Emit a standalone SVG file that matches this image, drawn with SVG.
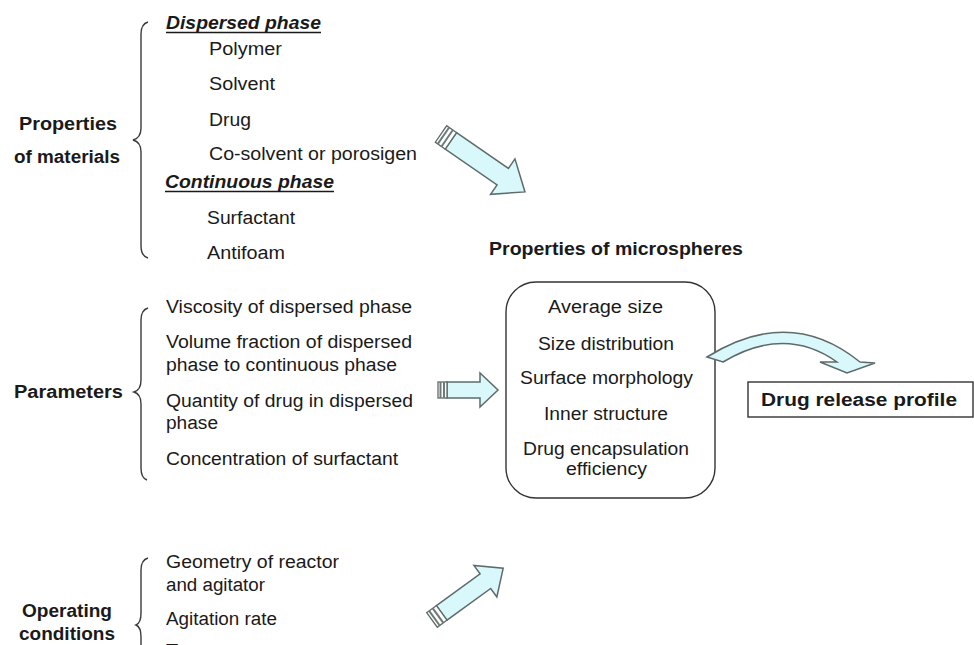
<svg xmlns="http://www.w3.org/2000/svg" width="974" height="645" viewBox="0 0 974 645">
<style>
text{font-family:"Liberation Sans",Arial,sans-serif;font-size:18px;fill:#1a1a1a}
.b{font-weight:bold}
.bi{font-weight:bold;font-style:italic}
.brace{fill:none;stroke:#3a3a3a;stroke-width:1.4}
.ul{stroke:#1a1a1a;stroke-width:1.5}
.arr{fill:#d8f8fb;stroke:#5f6b6b;stroke-width:1.5;stroke-linejoin:miter}
.ring{fill:#ffffff;stroke:#5f6b6b;stroke-width:1.3}
.stripe{stroke:#6e7a7a;stroke-width:2}
.box{fill:#ffffff;stroke:#333;stroke-width:1.4}
</style>
<rect width="974" height="645" fill="#ffffff"/>

<g id="materials">
<text class="b" x="19" y="130" textLength="98" lengthAdjust="spacingAndGlyphs">Properties</text>
<text class="b" x="14" y="163" textLength="106" lengthAdjust="spacingAndGlyphs">of materials</text>
<path class="brace" d="M148,22 Q141,24 141,34 L141,128 Q141,138 133,140 Q141,142 141,152 L141,246 Q141,256 148,258"/>
<text class="bi" x="166" y="29" textLength="155" lengthAdjust="spacingAndGlyphs">Dispersed phase</text>
<line class="ul" x1="166" y1="32.5" x2="321" y2="32.5"/>
<text x="209" y="55" textLength="73" lengthAdjust="spacingAndGlyphs">Polymer</text>
<text x="209" y="90" textLength="66" lengthAdjust="spacingAndGlyphs">Solvent</text>
<text x="209" y="126" textLength="42" lengthAdjust="spacingAndGlyphs">Drug</text>
<text x="209" y="160" textLength="208" lengthAdjust="spacingAndGlyphs">Co-solvent or porosigen</text>
<text class="bi" x="165" y="188" textLength="169" lengthAdjust="spacingAndGlyphs">Continuous phase</text>
<line class="ul" x1="165" y1="191.5" x2="334" y2="191.5"/>
<text x="207" y="224" textLength="88" lengthAdjust="spacingAndGlyphs">Surfactant</text>
<text x="207" y="259" textLength="78" lengthAdjust="spacingAndGlyphs">Antifoam</text>
</g>

<g id="parameters">
<text class="b" x="14" y="398" textLength="109" lengthAdjust="spacingAndGlyphs">Parameters</text>
<path class="brace" d="M148,308 Q141,310 141,320 L141,380 Q141,390 134,392 Q141,394 141,404 L141,468 Q141,478 147,480"/>
<text x="166" y="313" textLength="246" lengthAdjust="spacingAndGlyphs">Viscosity of dispersed phase</text>
<text x="166" y="348" textLength="246" lengthAdjust="spacingAndGlyphs">Volume fraction of dispersed</text>
<text x="166" y="371" textLength="231" lengthAdjust="spacingAndGlyphs">phase to continuous phase</text>
<text x="166" y="407" textLength="247" lengthAdjust="spacingAndGlyphs">Quantity of drug in dispersed</text>
<text x="166" y="429" textLength="52" lengthAdjust="spacingAndGlyphs">phase</text>
<text x="166" y="465" textLength="232" lengthAdjust="spacingAndGlyphs">Concentration of surfactant</text>
</g>

<g id="operating">
<text class="b" x="22" y="617" textLength="90" lengthAdjust="spacingAndGlyphs">Operating</text>
<text class="b" x="19" y="640" textLength="96" lengthAdjust="spacingAndGlyphs">conditions</text>
<path class="brace" d="M148,558 Q141,560 141,570 L141,613 Q141,623 136,625 Q141,627 141,637 L141,700"/>
<text x="166" y="568" textLength="173" lengthAdjust="spacingAndGlyphs">Geometry of reactor</text>
<text x="166" y="591" textLength="99" lengthAdjust="spacingAndGlyphs">and agitator</text>
<text x="166" y="625" textLength="111" lengthAdjust="spacingAndGlyphs">Agitation rate</text>
<text x="166" y="657" textLength="112" lengthAdjust="spacingAndGlyphs">Temperature</text>
</g>

<g id="microspheres">
<text class="b" x="489" y="255" textLength="254" lengthAdjust="spacingAndGlyphs">Properties of microspheres</text>
<rect class="box" x="506" y="282" width="209" height="216" rx="30" ry="30"/>
<text x="548" y="313" textLength="115" lengthAdjust="spacingAndGlyphs">Average size</text>
<text x="538" y="350" textLength="136" lengthAdjust="spacingAndGlyphs">Size distribution</text>
<text x="520" y="384" textLength="173" lengthAdjust="spacingAndGlyphs">Surface morphology</text>
<text x="544" y="420" textLength="124" lengthAdjust="spacingAndGlyphs">Inner structure</text>
<text x="523" y="455" textLength="166" lengthAdjust="spacingAndGlyphs">Drug encapsulation</text>
<text x="566" y="475" textLength="81" lengthAdjust="spacingAndGlyphs">efficiency</text>
</g>

<g id="release">
<rect class="box" x="748" y="382" width="225" height="35"/>
<text class="b" x="761" y="406" textLength="196" lengthAdjust="spacingAndGlyphs">Drug release profile</text>
</g>

<g id="connectors">
<g transform="translate(441,134) rotate(34.6)">
<path class="arr" d="M12,-10 L75,-10 L75,-21.5 L102,0 L75,21.5 L75,10 L12,10 Z"/>
<rect class="ring" x="0" y="-10" width="12" height="20"/>
<line class="stripe" x1="3" y1="-10" x2="3" y2="10"/>
<line class="stripe" x1="7.5" y1="-10" x2="7.5" y2="10"/>
</g>
<g transform="translate(438,390)">
<path class="arr" d="M9,-8 L42,-8 L42,-17 L60,0 L42,17 L42,8 L9,8 Z"/>
<rect class="ring" x="0" y="-8" width="9" height="16"/>
<line class="stripe" x1="2.5" y1="-8" x2="2.5" y2="8"/>
<line class="stripe" x1="6" y1="-8" x2="6" y2="8"/>
</g>
<g transform="translate(432,620) rotate(-36)">
<path class="arr" d="M12,-9 L66,-9 L66,-19.5 L88,0 L66,19.5 L66,9 L12,9 Z"/>
<rect class="ring" x="0" y="-9" width="12" height="18"/>
<line class="stripe" x1="3" y1="-9" x2="3" y2="9"/>
<line class="stripe" x1="7.5" y1="-9" x2="7.5" y2="9"/>
</g>
<path class="arr" d="M707,357 Q790,305 860,362 L875,363 L847,373 L820,362 L837,362 Q785,325 723,362 Z"/>
</g>
</svg>
